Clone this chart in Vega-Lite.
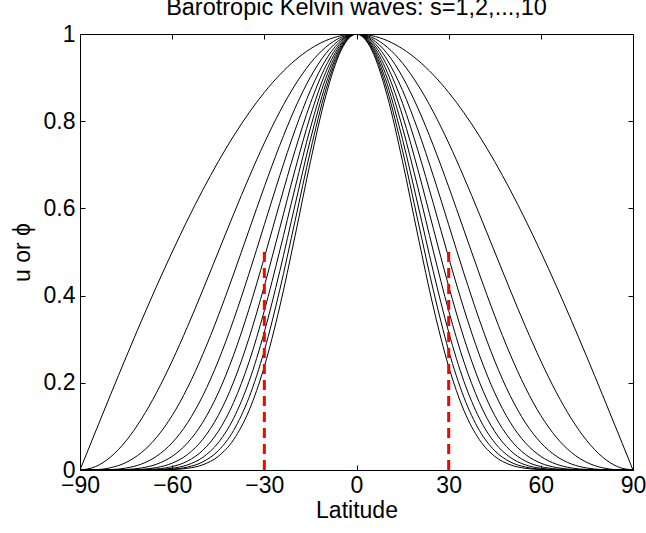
{
  "$schema": "https://vega.github.io/schema/vega-lite/v6.json",
  "width": 553,
  "height": 436,
  "autosize": "none",
  "padding": {"left": 80, "top": 34, "right": 13, "bottom": 63},
  "background": "white",
  "config": {
    "font": "Liberation Sans",
    "view": {"stroke": "black", "strokeWidth": 1},
    "axis": {
      "domainColor": "black",
      "tickColor": "black",
      "labelColor": "black",
      "titleColor": "black",
      "labelFont": "Liberation Sans",
      "titleFont": "Liberation Sans",
      "labelFontSize": 23,
      "titleFontSize": 23,
      "titleFontWeight": "normal",
      "labelFlush": false,
      "labelOverlap": false,
      "labelBound": false,
      "grid": false
    }
  },
  "title": {
    "text": "Barotropic Kelvin waves: s=1,2,...,10",
    "fontSize": 23.5,
    "fontWeight": "normal",
    "font": "Liberation Sans",
    "color": "black",
    "offset": 4
  },
  "datasets": {
    "curves": [
      {"lat": -90, "s1": 0, "s2": 0, "s3": 0, "s4": 0, "s5": 0, "s6": 0, "s7": 0, "s8": 0, "s9": 0, "s10": 0},
      {"lat": -85, "s1": 0.08716, "s2": 0.0076, "s3": 0.00066, "s4": 0.00006, "s5": 0, "s6": 0, "s7": 0, "s8": 0, "s9": 0, "s10": 0},
      {"lat": -80, "s1": 0.17365, "s2": 0.03015, "s3": 0.00524, "s4": 0.00091, "s5": 0.00016, "s6": 0.00003, "s7": 0, "s8": 0, "s9": 0, "s10": 0},
      {"lat": -75, "s1": 0.25882, "s2": 0.06699, "s3": 0.01734, "s4": 0.00449, "s5": 0.00116, "s6": 0.0003, "s7": 0.00008, "s8": 0.00002, "s9": 0.00001, "s10": 0},
      {"lat": -70, "s1": 0.34202, "s2": 0.11698, "s3": 0.04001, "s4": 0.01368, "s5": 0.00468, "s6": 0.0016, "s7": 0.00055, "s8": 0.00019, "s9": 0.00006, "s10": 0.00002},
      {"lat": -65, "s1": 0.42262, "s2": 0.17861, "s3": 0.07548, "s4": 0.0319, "s5": 0.01348, "s6": 0.0057, "s7": 0.00241, "s8": 0.00102, "s9": 0.00043, "s10": 0.00018},
      {"lat": -60, "s1": 0.5, "s2": 0.25, "s3": 0.125, "s4": 0.0625, "s5": 0.03125, "s6": 0.01563, "s7": 0.00781, "s8": 0.00391, "s9": 0.00195, "s10": 0.00098},
      {"lat": -55, "s1": 0.57358, "s2": 0.32899, "s3": 0.1887, "s4": 0.10824, "s5": 0.06208, "s6": 0.03561, "s7": 0.02042, "s8": 0.01172, "s9": 0.00672, "s10": 0.00385},
      {"lat": -50, "s1": 0.64279, "s2": 0.41318, "s3": 0.26559, "s4": 0.17072, "s5": 0.10974, "s6": 0.07054, "s7": 0.04534, "s8": 0.02914, "s9": 0.01873, "s10": 0.01204},
      {"lat": -45, "s1": 0.70711, "s2": 0.5, "s3": 0.35355, "s4": 0.25, "s5": 0.17678, "s6": 0.125, "s7": 0.08839, "s8": 0.0625, "s9": 0.04419, "s10": 0.03125},
      {"lat": -40, "s1": 0.76604, "s2": 0.58682, "s3": 0.44953, "s4": 0.34436, "s5": 0.26379, "s6": 0.20207, "s7": 0.1548, "s8": 0.11858, "s9": 0.09084, "s10": 0.06959},
      {"lat": -35, "s1": 0.81915, "s2": 0.67101, "s3": 0.54966, "s4": 0.45025, "s5": 0.36882, "s6": 0.30212, "s7": 0.24748, "s8": 0.20273, "s9": 0.16606, "s10": 0.13603},
      {"lat": -30, "s1": 0.86603, "s2": 0.75, "s3": 0.64952, "s4": 0.5625, "s5": 0.48714, "s6": 0.42188, "s7": 0.36535, "s8": 0.31641, "s9": 0.27402, "s10": 0.2373},
      {"lat": -25, "s1": 0.90631, "s2": 0.8214, "s3": 0.74444, "s4": 0.67469, "s5": 0.61148, "s6": 0.55419, "s7": 0.50227, "s8": 0.45521, "s9": 0.41256, "s10": 0.37391},
      {"lat": -20, "s1": 0.93969, "s2": 0.88302, "s3": 0.82976, "s4": 0.77972, "s5": 0.7327, "s6": 0.68851, "s7": 0.64698, "s8": 0.60796, "s9": 0.5713, "s10": 0.53684},
      {"lat": -15, "s1": 0.96593, "s2": 0.93301, "s3": 0.90122, "s4": 0.87051, "s5": 0.84085, "s6": 0.8122, "s7": 0.78452, "s8": 0.75779, "s9": 0.73197, "s10": 0.70703},
      {"lat": -10, "s1": 0.98481, "s2": 0.96985, "s3": 0.95512, "s4": 0.94061, "s5": 0.92632, "s6": 0.91225, "s7": 0.89839, "s8": 0.88474, "s9": 0.8713, "s10": 0.85806},
      {"lat": -5, "s1": 0.99619, "s2": 0.99239, "s3": 0.98862, "s4": 0.98485, "s5": 0.9811, "s6": 0.97737, "s7": 0.97365, "s8": 0.96994, "s9": 0.96625, "s10": 0.96257},
      {"lat": 0, "s1": 1, "s2": 1, "s3": 1, "s4": 1, "s5": 1, "s6": 1, "s7": 1, "s8": 1, "s9": 1, "s10": 1},
      {"lat": 5, "s1": 0.99619, "s2": 0.99239, "s3": 0.98862, "s4": 0.98485, "s5": 0.9811, "s6": 0.97737, "s7": 0.97365, "s8": 0.96994, "s9": 0.96625, "s10": 0.96257},
      {"lat": 10, "s1": 0.98481, "s2": 0.96985, "s3": 0.95512, "s4": 0.94061, "s5": 0.92632, "s6": 0.91225, "s7": 0.89839, "s8": 0.88474, "s9": 0.8713, "s10": 0.85806},
      {"lat": 15, "s1": 0.96593, "s2": 0.93301, "s3": 0.90122, "s4": 0.87051, "s5": 0.84085, "s6": 0.8122, "s7": 0.78452, "s8": 0.75779, "s9": 0.73197, "s10": 0.70703},
      {"lat": 20, "s1": 0.93969, "s2": 0.88302, "s3": 0.82976, "s4": 0.77972, "s5": 0.7327, "s6": 0.68851, "s7": 0.64698, "s8": 0.60796, "s9": 0.5713, "s10": 0.53684},
      {"lat": 25, "s1": 0.90631, "s2": 0.8214, "s3": 0.74444, "s4": 0.67469, "s5": 0.61148, "s6": 0.55419, "s7": 0.50227, "s8": 0.45521, "s9": 0.41256, "s10": 0.37391},
      {"lat": 30, "s1": 0.86603, "s2": 0.75, "s3": 0.64952, "s4": 0.5625, "s5": 0.48714, "s6": 0.42188, "s7": 0.36535, "s8": 0.31641, "s9": 0.27402, "s10": 0.2373},
      {"lat": 35, "s1": 0.81915, "s2": 0.67101, "s3": 0.54966, "s4": 0.45025, "s5": 0.36882, "s6": 0.30212, "s7": 0.24748, "s8": 0.20273, "s9": 0.16606, "s10": 0.13603},
      {"lat": 40, "s1": 0.76604, "s2": 0.58682, "s3": 0.44953, "s4": 0.34436, "s5": 0.26379, "s6": 0.20207, "s7": 0.1548, "s8": 0.11858, "s9": 0.09084, "s10": 0.06959},
      {"lat": 45, "s1": 0.70711, "s2": 0.5, "s3": 0.35355, "s4": 0.25, "s5": 0.17678, "s6": 0.125, "s7": 0.08839, "s8": 0.0625, "s9": 0.04419, "s10": 0.03125},
      {"lat": 50, "s1": 0.64279, "s2": 0.41318, "s3": 0.26559, "s4": 0.17072, "s5": 0.10974, "s6": 0.07054, "s7": 0.04534, "s8": 0.02914, "s9": 0.01873, "s10": 0.01204},
      {"lat": 55, "s1": 0.57358, "s2": 0.32899, "s3": 0.1887, "s4": 0.10824, "s5": 0.06208, "s6": 0.03561, "s7": 0.02042, "s8": 0.01172, "s9": 0.00672, "s10": 0.00385},
      {"lat": 60, "s1": 0.5, "s2": 0.25, "s3": 0.125, "s4": 0.0625, "s5": 0.03125, "s6": 0.01563, "s7": 0.00781, "s8": 0.00391, "s9": 0.00195, "s10": 0.00098},
      {"lat": 65, "s1": 0.42262, "s2": 0.17861, "s3": 0.07548, "s4": 0.0319, "s5": 0.01348, "s6": 0.0057, "s7": 0.00241, "s8": 0.00102, "s9": 0.00043, "s10": 0.00018},
      {"lat": 70, "s1": 0.34202, "s2": 0.11698, "s3": 0.04001, "s4": 0.01368, "s5": 0.00468, "s6": 0.0016, "s7": 0.00055, "s8": 0.00019, "s9": 0.00006, "s10": 0.00002},
      {"lat": 75, "s1": 0.25882, "s2": 0.06699, "s3": 0.01734, "s4": 0.00449, "s5": 0.00116, "s6": 0.0003, "s7": 0.00008, "s8": 0.00002, "s9": 0.00001, "s10": 0},
      {"lat": 80, "s1": 0.17365, "s2": 0.03015, "s3": 0.00524, "s4": 0.00091, "s5": 0.00016, "s6": 0.00003, "s7": 0, "s8": 0, "s9": 0, "s10": 0},
      {"lat": 85, "s1": 0.08716, "s2": 0.0076, "s3": 0.00066, "s4": 0.00006, "s5": 0, "s6": 0, "s7": 0, "s8": 0, "s9": 0, "s10": 0},
      {"lat": 90, "s1": 0, "s2": 0, "s3": 0, "s4": 0, "s5": 0, "s6": 0, "s7": 0, "s8": 0, "s9": 0, "s10": 0}
    ],
    "marks": [
      {"lat": -30, "y0": 0, "y1": 0.5},
      {"lat": 30, "y0": 0, "y1": 0.5}
    ]
  },
  "layer": [
    {
      "data": {"name": "curves"},
      "transform": [
        {"fold": ["s1", "s2", "s3", "s4", "s5", "s6", "s7", "s8", "s9", "s10"], "as": ["s", "val"]}
      ],
      "mark": {"type": "line", "color": "black", "strokeWidth": 1, "interpolate": "monotone", "clip": true},
      "encoding": {
        "x": {
          "field": "lat", "type": "quantitative",
          "scale": {"domain": [-90, 90], "nice": false, "zero": false},
          "axis": {"orient": "bottom", "values": [-90, -60, -30, 0, 30, 60, 90], "format": "d", "tickSize": -5, "labelPadding": 9, "title": "Latitude", "titlePadding": 2}
        },
        "y": {
          "field": "val", "type": "quantitative",
          "scale": {"domain": [0, 1], "nice": false, "zero": false},
          "axis": {"orient": "left", "values": [0, 0.2, 0.4, 0.6, 0.8, 1], "format": "~g", "tickSize": -5, "labelPadding": 10, "title": "u or ϕ", "titlePadding": 9}
        },
        "detail": {"field": "s", "type": "nominal"}
      }
    },
    {
      "data": {"name": "marks"},
      "mark": {"type": "rule", "color": "#ff0000", "strokeWidth": 3, "strokeDash": [10, 6]},
      "encoding": {
        "x": {
          "field": "lat", "type": "quantitative",
          "axis": {"orient": "top", "values": [-90, -60, -30, 0, 30, 60, 90], "tickSize": -5, "labels": false, "title": null, "domain": false}
        },
        "y": {
          "field": "y1", "type": "quantitative",
          "axis": {"orient": "right", "values": [0, 0.2, 0.4, 0.6, 0.8, 1], "tickSize": -5, "labels": false, "title": null, "domain": false}
        },
        "y2": {"field": "y0"}
      }
    }
  ],
  "resolve": {"axis": {"x": "independent", "y": "independent"}}
}
